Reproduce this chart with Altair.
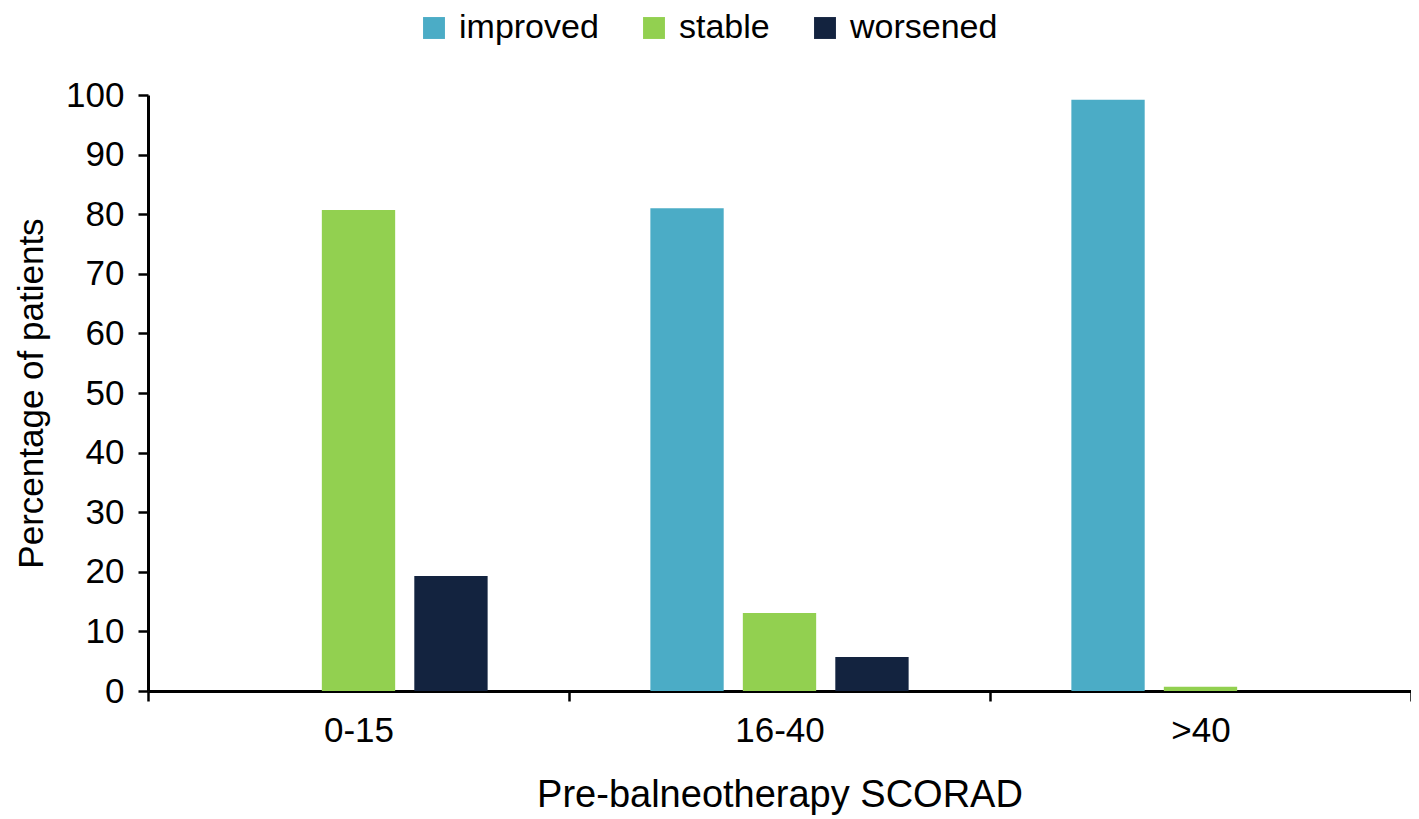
import altair as alt
import pandas as pd

categories = ["0-15", "16-40", ">40"]
statuses = ["improved", "stable", "worsened"]
improved = [0.0, 81.0, 99.2]
stable = [80.7, 13.1, 0.7]
worsened = [19.3, 5.7, 0.0]
colors = ["#4BACC6", "#92D050", "#13233F"]

rows = []
for i, c in enumerate(categories):
    for s, vals in zip(statuses, [improved, stable, worsened]):
        rows.append({"group": c, "status": s, "value": vals[i]})
df = pd.DataFrame(rows)

FONT = "Liberation Sans"

chart = alt.Chart(df).mark_bar().encode(
    x=alt.X("group:N", sort=categories,
            scale=alt.Scale(paddingInner=0, paddingOuter=0),
            axis=alt.Axis(title="Pre-balneotherapy SCORAD", labelAngle=0,
                          tickBand="extent", tickSize=10, tickWidth=2.5,
                          tickColor="black", domainColor="black", domainWidth=3,
                          labelFontSize=35, labelFont=FONT, labelColor="black",
                          labelPadding=12, titleFontSize=38, titleFont=FONT,
                          titleFontWeight="normal", titleColor="black",
                          titlePadding=28, grid=False)),
    xOffset=alt.XOffset("status:N", sort=statuses,
                        scale=alt.Scale(paddingInner=0.207, paddingOuter=0.88)),
    y=alt.Y("value:Q",
            scale=alt.Scale(domain=[0, 100], nice=False),
            axis=alt.Axis(title="Percentage of patients", values=list(range(0, 101, 10)),
                          tickSize=10, tickWidth=2.5, tickColor="black",
                          domainColor="black", domainWidth=3,
                          labelFontSize=35, labelFont=FONT, labelColor="black",
                          labelPadding=14, titleFontSize=35, titleFont=FONT,
                          titleFontWeight="normal", titleColor="black",
                          titlePadding=16, grid=False)),
    color=alt.Color("status:N", sort=statuses,
                    scale=alt.Scale(domain=statuses, range=colors),
                    legend=alt.Legend(title=None, orient="none", direction="horizontal",
                                      columns=3, legendX=269, legendY=-84,
                                      symbolType="square", symbolSize=480,
                                      symbolStrokeWidth=0, labelFontSize=34,
                                      labelFont=FONT, labelColor="black",
                                      labelOffset=8, columnPadding=38, padding=0)),
).properties(
    width=1263,
    height=596,
    autosize=alt.AutoSizeParams(type="none"),
    padding={"left": 140, "top": 87, "right": 0, "bottom": 124},
).configure_view(stroke=None)

chart.save("out.html", embed_options={"renderer": "svg", "actions": False})
